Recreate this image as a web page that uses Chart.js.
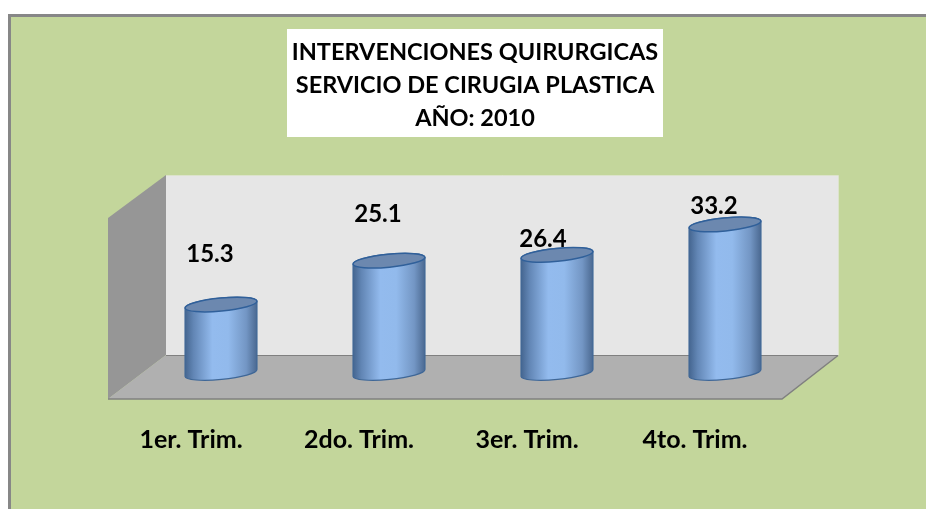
<!DOCTYPE html>
<html>
<head>
<meta charset="utf-8">
<style>html,body{margin:0;padding:0;background:#fff;overflow:hidden}canvas{display:block}</style>
<script src="https://cdn.jsdelivr.net/npm/chart.js@4"></script>
</head>
<body>
<div style="width:926px;height:509px"><canvas id="c" width="926" height="509"></canvas></div>
<script>
const categories = ["1er. Trim.", "2do. Trim.", "3er. Trim.", "4to. Trim."];
const seriesValues = [15.3, 25.1, 26.4, 33.2];
const titleLines = ["INTERVENCIONES QUIRURGICAS", "SERVICIO DE CIRUGIA PLASTICA", "AÑO: 2010"];

const FONT = "Lato, Carlito, Calibri, sans-serif";

const stage = {
  id: "stage",
  beforeDraw(chart) {
    const c = chart.ctx;
    c.save();
    c.fillStyle = "#ffffff"; c.fillRect(0, 0, 926, 509);
    c.fillStyle = "#878787"; c.fillRect(8, 14, 918, 495);
    c.fillStyle = "#C3D69B"; c.fillRect(11, 17, 915, 492);
    // title box
    c.fillStyle = "#ffffff"; c.fillRect(287, 29, 376, 108);
    // back wall
    c.fillStyle = "#E6E6E6"; c.fillRect(166, 175, 672, 180);
    c.strokeStyle = "#DCE3CB"; c.lineWidth = 1;
    c.beginPath(); c.moveTo(166, 175.5); c.lineTo(838.5, 175.5); c.lineTo(838.5, 355); c.stroke();
    // side wall
    c.fillStyle = "#969696";
    c.beginPath(); c.moveTo(108, 218); c.lineTo(166, 175); c.lineTo(166, 355); c.lineTo(108, 399); c.closePath(); c.fill();
    // floor
    c.fillStyle = "#B0B0B0";
    c.beginPath(); c.moveTo(166, 355); c.lineTo(838, 355); c.lineTo(782, 399); c.lineTo(108, 399); c.closePath(); c.fill();
    c.strokeStyle = "#808080"; c.lineWidth = 1.2;
    c.beginPath(); c.moveTo(166, 355.5); c.lineTo(838, 355.5); c.stroke();
    c.lineWidth = 1.5;
    c.beginPath(); c.moveTo(838, 355.5); c.lineTo(782, 399); c.lineTo(108, 399); c.stroke();
    c.restore();
  },
  afterLayout(chart) {
    chart.titleBlock.left += 2;
    chart.titleBlock.right += 2;
  },
  beforeDatasetDraw(chart, args) {
    const c = chart.ctx;
    const rot = -5.5 * Math.PI / 180, b = 6.5;
    chart.getDatasetMeta(args.index).data.forEach(bar => {
      const a = bar.width / 2, x = bar.x, top = bar.y, base = bar.base;
      const g = c.createLinearGradient(x - a, 0, x + a, 0);
      g.addColorStop(0, "#44658F");
      g.addColorStop(0.12, "#6286B5");
      g.addColorStop(0.38, "#93BBEE");
      g.addColorStop(0.6, "#92BAEC");
      g.addColorStop(0.85, "#7396C4");
      g.addColorStop(1, "#4A6890");
      c.save();
      c.beginPath();
      c.ellipse(x, top, a, b, rot, Math.PI, 0, false);
      c.ellipse(x, base, a, b, rot, 0, Math.PI, false);
      c.closePath();
      c.fillStyle = g; c.fill();
      c.strokeStyle = "#3F6797"; c.lineWidth = 1.2; c.stroke();
      c.beginPath();
      c.ellipse(x, top, a, b, rot, 0, Math.PI * 2);
      c.fillStyle = "#6C88AF"; c.fill();
      c.strokeStyle = "#30609A"; c.lineWidth = 1.5; c.stroke();
      c.restore();
    });
    return false;
  },
  afterDatasetsDraw(chart) {
    const c = chart.ctx;
    const dx = [-11, -11, -14, -11];
    const dy = [-50, -46, -16, -18];
    c.save();
    c.font = "bold 24px " + FONT;
    c.fillStyle = "#000";
    c.textAlign = "center";
    c.textBaseline = "middle";
    chart.getDatasetMeta(0).data.forEach((bar, i) => {
      c.fillText(seriesValues[i].toFixed(1), bar.x + dx[i], bar.y + dy[i]);
    });
    c.restore();
  }
};

new Chart(document.getElementById("c"), {
  type: "bar",
  data: {
    labels: categories,
    datasets: [{
      label: "Intervenciones",
      data: seriesValues,
      backgroundColor: "#8DB4E2",
      borderColor: "#3F6797",
      barPercentage: 0.43,
      categoryPercentage: 1
    }]
  },
  plugins: [stage],
  options: {
    responsive: false,
    animation: false,
    layout: { padding: { left: 137, right: 117, top: 36, bottom: 10 } },
    plugins: {
      legend: { display: false },
      tooltip: { enabled: false },
      title: {
        display: true,
        text: titleLines,
        color: "#000",
        font: { family: FONT, size: 23.5, weight: "bold", lineHeight: "33px" },
        padding: { top: 0, bottom: 59 }
      }
    },
    scales: {
      x: {
        grid: { display: false },
        border: { display: false },
        ticks: {
          color: "#000",
          font: { family: FONT, size: 25, weight: "bold" },
          padding: 44,
          maxRotation: 0,
          autoSkip: false,
          labelOffset: -30
        }
      },
      y: { display: false, min: 0, max: 40 }
    }
  }
});
</script>
</body>
</html>
